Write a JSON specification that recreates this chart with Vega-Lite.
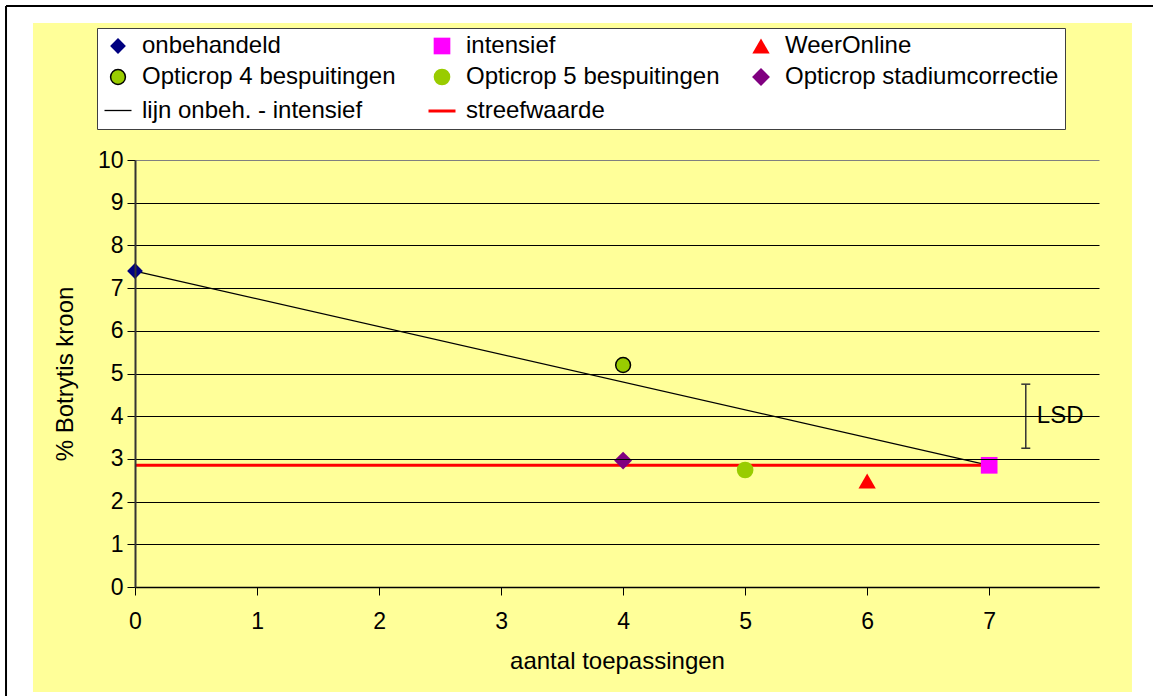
{
  "$schema": "https://vega.github.io/schema/vega-lite/v6.json",
  "width": 964,
  "height": 427,
  "autosize": {"type": "none"},
  "padding": {"left": 135, "top": 160, "right": 54, "bottom": 109},
  "background": "white",
  "config": {
    "font": "Liberation Sans",
    "view": {"stroke": "#808080", "strokeWidth": 1.5, "fill": "#FFFF99"}
  },
  "datasets": {
    "points": [
      {"series": "onbehandeld", "x": 0, "y": 7.4},
      {"series": "intensief", "x": 7, "y": 2.85},
      {"series": "WeerOnline", "x": 6, "y": 2.48},
      {"series": "Opticrop 4 bespuitingen", "x": 4, "y": 5.2},
      {"series": "Opticrop 5 bespuitingen", "x": 5, "y": 2.74},
      {"series": "Opticrop stadiumcorrectie", "x": 4, "y": 2.96}
    ],
    "trend": [
      {"series": "lijn onbeh. - intensief", "x": 0, "y": 7.4},
      {"series": "lijn onbeh. - intensief", "x": 7, "y": 2.85}
    ],
    "target": [
      {"series": "streefwaarde", "x": 0, "y": 2.85},
      {"series": "streefwaarde", "x": 7, "y": 2.85}
    ],
    "lsd": [
      {"x": 7.3, "low": 3.25, "high": 4.75, "mid": 4.0, "label": "LSD"}
    ]
  },
  "layer": [
    {
      "data": {"values": [{}]},
      "mark": {"type": "rect", "color": "#FFFF99"},
      "encoding": {
        "x": {"datum": -0.836, "type": "quantitative"},
        "x2": {"datum": 8.17},
        "y": {"datum": -2.459, "type": "quantitative"},
        "y2": {"datum": 13.208}
      }
    },
    {
      "data": {"values": [{}]},
      "mark": {"type": "rule", "color": "black", "strokeWidth": 2},
      "encoding": {
        "x": {"datum": -1.057, "type": "quantitative"},
        "y": {"datum": -2.6, "type": "quantitative"},
        "y2": {"datum": 13.607}
      }
    },
    {
      "data": {"values": [{}]},
      "mark": {"type": "rule", "color": "black", "strokeWidth": 2},
      "encoding": {
        "x": {"datum": -1.057, "type": "quantitative"},
        "x2": {"datum": 8.45},
        "y": {"datum": 13.607, "type": "quantitative"}
      }
    },
    {
      "data": {"name": "trend"},
      "mark": {"type": "line", "color": "black", "strokeWidth": 1.3},
      "encoding": {
        "x": {"field": "x", "type": "quantitative"},
        "y": {"field": "y", "type": "quantitative"}
      }
    },
    {
      "data": {"name": "target"},
      "mark": {"type": "line", "color": "#FF0000", "strokeWidth": 3},
      "encoding": {
        "x": {"field": "x", "type": "quantitative"},
        "y": {"field": "y", "type": "quantitative"}
      }
    },
    {
      "data": {"name": "lsd"},
      "mark": {"type": "rule", "color": "#333333", "strokeWidth": 1.5},
      "encoding": {
        "x": {"field": "x", "type": "quantitative"},
        "y": {"field": "low", "type": "quantitative"},
        "y2": {"field": "high"}
      }
    },
    {
      "data": {"name": "lsd"},
      "mark": {"type": "tick", "orient": "horizontal", "size": 9, "thickness": 1.5, "color": "#333333", "opacity": 1},
      "encoding": {
        "x": {"field": "x", "type": "quantitative"},
        "y": {"field": "low", "type": "quantitative"}
      }
    },
    {
      "data": {"name": "lsd"},
      "mark": {"type": "tick", "orient": "horizontal", "size": 9, "thickness": 1.5, "color": "#333333", "opacity": 1},
      "encoding": {
        "x": {"field": "x", "type": "quantitative"},
        "y": {"field": "high", "type": "quantitative"}
      }
    },
    {
      "data": {"name": "lsd"},
      "mark": {"type": "text", "align": "left", "baseline": "middle", "dx": 11, "fontSize": 24, "color": "black"},
      "encoding": {
        "x": {"field": "x", "type": "quantitative"},
        "y": {"field": "mid", "type": "quantitative"},
        "text": {"field": "label"}
      }
    },
    {
      "data": {"name": "points"},
      "mark": {"type": "point", "filled": true, "opacity": 1},
      "encoding": {
        "x": {
          "field": "x", "type": "quantitative",
          "scale": {"domain": [0, 7.9], "nice": false, "zero": false},
          "axis": {
            "title": "aantal toepassingen",
            "values": [0, 1, 2, 3, 4, 5, 6, 7],
            "format": "d",
            "grid": false,
            "tickSize": 8, "tickColor": "black", "tickWidth": 1,
            "domainColor": "black", "domainWidth": 1.5,
            "labelFontSize": 23, "labelColor": "black", "labelPadding": 15, "labelFlush": false,
            "titleFontSize": 24, "titleFontWeight": "normal", "titleColor": "black",
            "titleBaseline": "middle", "titleY": 74,
            "zindex": 1
          }
        },
        "y": {
          "field": "y", "type": "quantitative",
          "scale": {"domain": [0, 10], "nice": false, "zero": false},
          "axis": {
            "title": "% Botrytis kroon",
            "values": [0, 1, 2, 3, 4, 5, 6, 7, 8, 9, 10],
            "grid": true,
            "gridColor": {"condition": {"test": "datum.value === 10", "value": "#808080"}, "value": "black"},
            "gridWidth": 1,
            "tickSize": 8, "tickColor": "black", "tickWidth": 1,
            "domainColor": "#333333", "domainWidth": 2,
            "labelFontSize": 23, "labelColor": "black", "labelPadding": 4,
            "titleFontSize": 24, "titleFontWeight": "normal", "titleColor": "black",
            "titleX": -70, "titleY": 213.5, "titleAngle": -90, "titleBaseline": "middle", "titleAlign": "center",
            "zindex": 1
          }
        },
        "color": {
          "field": "series", "type": "nominal",
          "scale": {
            "domain": ["onbehandeld", "intensief", "WeerOnline", "Opticrop 4 bespuitingen", "Opticrop 5 bespuitingen", "Opticrop stadiumcorrectie", "lijn onbeh. - intensief", "streefwaarde"],
            "range": ["#000080", "#FF00FF", "#FF0000", "#99CC00", "#99CC00", "#800080", "#000000", "#FF0000"]
          },
          "legend": {
            "orient": "none", "legendX": -38, "legendY": -132,
            "direction": "horizontal",
            "columns": 3, "columnPadding": 26, "rowPadding": 7,
            "padding": 6, "strokeColor": "#404040", "fillColor": "white",
            "title": null,
            "labelFontSize": 24, "labelLimit": 500, "labelOffset": 9, "labelColor": "black",
            "symbolOpacity": 1
          }
        },
        "shape": {
          "field": "series", "type": "nominal",
          "scale": {
            "domain": ["onbehandeld", "intensief", "WeerOnline", "Opticrop 4 bespuitingen", "Opticrop 5 bespuitingen", "Opticrop stadiumcorrectie", "lijn onbeh. - intensief", "streefwaarde"],
            "range": ["diamond", "square", "triangle-up", "circle", "circle", "diamond", "stroke", "stroke"]
          },
          "legend": {"title": null}
        },
        "size": {
          "field": "series", "type": "nominal",
          "scale": {
            "type": "ordinal",
            "domain": ["onbehandeld", "intensief", "WeerOnline", "Opticrop 4 bespuitingen", "Opticrop 5 bespuitingen", "Opticrop stadiumcorrectie", "lijn onbeh. - intensief", "streefwaarde"],
            "range": [250, 278, 300, 220, 278, 320, 729, 729]
          },
          "legend": {"title": null}
        },
        "stroke": {
          "field": "series", "type": "nominal",
          "scale": {
            "domain": ["onbehandeld", "intensief", "WeerOnline", "Opticrop 4 bespuitingen", "Opticrop 5 bespuitingen", "Opticrop stadiumcorrectie", "lijn onbeh. - intensief", "streefwaarde"],
            "range": ["transparent", "transparent", "transparent", "#000000", "transparent", "transparent", "#000000", "#FF0000"]
          },
          "legend": {"title": null}
        },
        "strokeWidth": {
          "field": "series", "type": "nominal",
          "scale": {
            "type": "ordinal",
            "domain": ["onbehandeld", "intensief", "WeerOnline", "Opticrop 4 bespuitingen", "Opticrop 5 bespuitingen", "Opticrop stadiumcorrectie", "lijn onbeh. - intensief", "streefwaarde"],
            "range": [0, 0, 0, 1.5, 0, 0, 1.3, 3]
          },
          "legend": {"title": null}
        }
      }
    }
  ]
}
